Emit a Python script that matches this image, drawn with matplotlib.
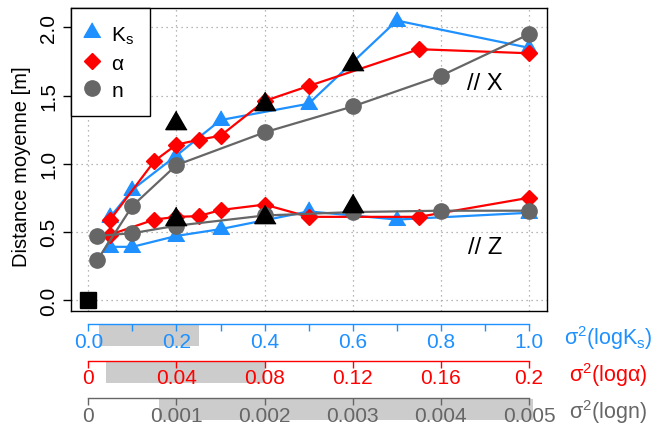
import matplotlib.pyplot as plt
from matplotlib.lines import Line2D
from matplotlib.patches import Rectangle
from matplotlib.transforms import blended_transform_factory

plt.rcParams["font.family"] = ["Liberation Sans", "DejaVu Sans"]
plt.rcParams["mathtext.fontset"] = "custom"
plt.rcParams["mathtext.rm"] = "Liberation Sans"
plt.rcParams["mathtext.it"] = "Liberation Sans:italic"

# --- data (x expressed on the sigma^2(logKs) scale, 0..1) ---
ks_x = [0.05, 0.1, 0.2, 0.3, 0.5, 0.7, 1.0]
ks_x_dist = [0.61, 0.81, 1.06, 1.32, 1.44, 2.05, 1.85]
ks_z_dist = [0.39, 0.39, 0.47, 0.52, 0.65, 0.59, 0.64]

alpha_x = [0.05, 0.15, 0.2, 0.25, 0.3, 0.4, 0.5, 0.75, 1.0]
alpha_x_dist = [0.59, 1.02, 1.14, 1.175, 1.205, 1.46, 1.57, 1.84, 1.81]
alpha_z_dist = [0.48, 0.59, 0.61, 0.615, 0.66, 0.70, 0.61, 0.61, 0.75]

n_x = [0.02, 0.1, 0.2, 0.4, 0.6, 0.8, 1.0]
n_x_dist = [0.29, 0.69, 0.99, 1.23, 1.42, 1.645, 1.95]
n_z_dist = [0.47, 0.49, 0.545, 0.62, 0.645, 0.655, 0.655]

ref_x = [0.2, 0.4, 0.6]
ref_x_dist = [1.30, 1.435, 1.735]
ref_z_dist = [0.595, 0.612, 0.69]

# secondary axes: ticks, labels and shaded ranges
ks_ticks = [0.0, 0.2, 0.4, 0.6, 0.8, 1.0]
ks_minor = [0.1, 0.3, 0.5, 0.7, 0.9]
ks_labels = ["0.0", "0.2", "0.4", "0.6", "0.8", "1.0"]
ks_range = [0.025, 0.25]

alpha_ticks = [0, 0.04, 0.08, 0.12, 0.16, 0.2]
alpha_labels = ["0", "0.04", "0.08", "0.12", "0.16", "0.2"]
alpha_range = [0.008, 0.08]

n_ticks = [0, 0.001, 0.002, 0.003, 0.004, 0.005]
n_labels = ["0", "0.001", "0.002", "0.003", "0.004", "0.005"]
n_range = [0.0008, 0.00505]

BLUE = "#1E90FF"
RED = "#FF0000"
GRAY = "#666666"
TRI = [(0, 1), (-0.866, -0.5), (0.866, -0.5)]

W, H = 654, 427
fig = plt.figure(figsize=(W / 100, H / 100), dpi=100)
L, R, T, B = 70.7, 546.7, 9.3, 312.3
ax = fig.add_axes([L / W, 1 - B / H, (R - L) / W, (B - T) / H])

ax.set_xlim(-0.04, 1.04)
ax.set_ylim(-0.083, 2.14)
ax.set_xticks(ks_ticks)
ax.tick_params(axis="x", length=0, labelbottom=False)
ax.set_yticks([0, 0.5, 1.0, 1.5, 2.0], ["0.0", "0.5", "1.0", "1.5", "2.0"])
ax.tick_params(axis="y", length=6, width=1, labelsize=15, pad=3)
for lab in ax.get_yticklabels():
    lab.set_rotation(90)
    lab.set_va("center")
ax.grid(True, linestyle=(0, (1, 3)), color="#A0A0A0", linewidth=0.9)
ax.set_axisbelow(True)
for s in ax.spines.values():
    s.set_linewidth(1.0)

lw = 1.6
for yy in (ks_x_dist, ks_z_dist):
    ax.plot(ks_x, yy, color=BLUE, lw=lw, marker=TRI, ms=13.9)
for yy in (alpha_x_dist, alpha_z_dist):
    ax.plot(alpha_x, yy, color=RED, lw=lw, marker="D", ms=8.5)
for yy in (n_x_dist, n_z_dist):
    ax.plot(n_x, yy, color=GRAY, lw=lw, marker="o", ms=11)
for yy in (ref_x_dist, ref_z_dist):
    ax.plot(ref_x, yy, ls="none", color="black", marker=TRI, ms=17.7)
ax.plot([0], [0], ls="none", color="black", marker="s", ms=12, clip_on=False)

ax.text(0.9, 1.595, "// X", fontsize=17, ha="center", va="center")
ax.text(0.9, 0.386, "// Z", fontsize=17, ha="center", va="center")

handles = [
    Line2D([], [], ls="none", marker=TRI, ms=13.9, color=BLUE),
    Line2D([], [], ls="none", marker="D", ms=8.5, color=RED),
    Line2D([], [], ls="none", marker="o", ms=11, color=GRAY),
]
leg = ax.legend(handles, [r"K$_\mathrm{s}$", "α", "n"], loc="upper left",
                bbox_to_anchor=(0, 1), borderaxespad=0, fancybox=False,
                edgecolor="black", framealpha=1, fontsize=15,
                handlelength=0.5, handletextpad=0.7, borderpad=0.75,
                labelspacing=0.32, handleheight=1.0)
leg.get_frame().set_linewidth(1.0)

fig.text(22 / W, 1 - 167 / H, "Distance moyenne [m]", fontsize=14.5,
         rotation=90, ha="center", va="center")


def sub_axis(line_px, lim, ticks, labels, rng, color, title, title_px, minor=None):
    a = fig.add_axes([L / W, 1 - line_px / H, (R - L) / W, 0.001])
    a.set_xlim(lim)
    a.set_ylim(0, 1)
    a.set_autoscale_on(False)
    a.patch.set_visible(False)
    for s in ("left", "right", "top"):
        a.spines[s].set_visible(False)
    a.spines["bottom"].set_color(color)
    a.spines["bottom"].set_linewidth(1.0)
    a.spines["bottom"].set_bounds(ticks[0], ticks[-1])
    a.set_yticks([])
    a.set_xticks(ticks, labels)
    a.tick_params(axis="x", colors=color, length=5, width=1, labelsize=15, pad=0.5)
    if minor:
        a.set_xticks(minor, minor=True)
        a.tick_params(axis="x", which="minor", length=5, width=1, color=color)
    tr = blended_transform_factory(a.transData, fig.transFigure)
    a.add_patch(Rectangle((rng[0], 1 - (line_px + 22) / H), rng[1] - rng[0], 21 / H,
                          transform=tr, facecolor="#CCCCCC", edgecolor="none",
                          clip_on=False, zorder=0))
    fig.text(608 / W, 1 - title_px / H, title, color=color, fontsize=15.5,
             ha="center", va="center")


sub_axis(325, (-0.04, 1.04), ks_ticks, ks_labels, ks_range, BLUE,
         r"σ$^2$(logK$_\mathrm{s}$)", 338, minor=ks_minor)
sub_axis(361.7, (-0.008, 0.208), alpha_ticks, alpha_labels, alpha_range, RED,
         r"σ$^2$(logα)", 375)
sub_axis(399.3, (-0.0002, 0.0052), n_ticks, n_labels, n_range, GRAY,
         r"σ$^2$(logn)", 412)

fig.savefig("out.png", dpi=100)
